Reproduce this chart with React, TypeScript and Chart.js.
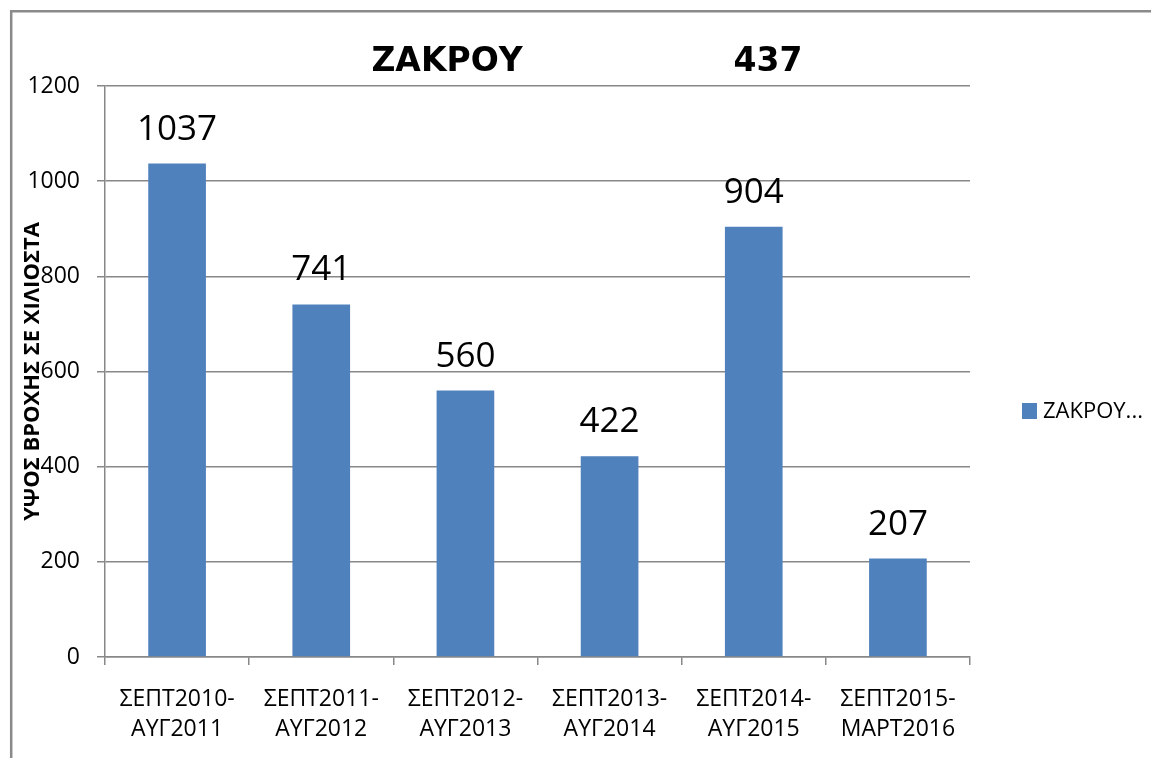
import React, { useEffect, useRef } from "react";
import { Chart, registerables } from "chart.js";

Chart.register(...registerables);

const categories: string[][] = [
  ["ΣΕΠΤ2010-", "ΑΥΓ2011"],
  ["ΣΕΠΤ2011-", "ΑΥΓ2012"],
  ["ΣΕΠΤ2012-", "ΑΥΓ2013"],
  ["ΣΕΠΤ2013-", "ΑΥΓ2014"],
  ["ΣΕΠΤ2014-", "ΑΥΓ2015"],
  ["ΣΕΠΤ2015-", "ΜΑΡΤ2016"],
];
const rainfall: number[] = [1037, 741, 560, 422, 904, 207];
const yMin = 0;
const yMax = 1200;
const yStep = 200;
const titleName = "ΖΑΚΡΟΥ";
const titleValue = "437";
const yAxisTitle = "ΥΨΟΣ ΒΡΟΧΗΣ ΣΕ ΧΙΛΙΟΣΤΑ";
const legendLabel = "ΖΑΚΡΟΥ...";

const BAR = "#4F81BD";
const GRID = "#888888";
const FONT = '"Open Sans", sans-serif';

const decorPlugin = {
  id: "decor",
  beforeDraw(chart: any) {
    const { ctx, width, height } = chart;
    ctx.save();
    ctx.fillStyle = "#ffffff";
    ctx.fillRect(0, 0, width, height);
    ctx.strokeStyle = "#8a8a8a";
    ctx.lineWidth = 2.5;
    ctx.beginPath();
    ctx.moveTo(11.2, 10);
    ctx.lineTo(11.2, height);
    ctx.moveTo(10, 11.2);
    ctx.lineTo(width, 11.2);
    ctx.stroke();
    ctx.restore();
  },
  afterDatasetsDraw(chart: any) {
    const { ctx } = chart;
    const meta = chart.getDatasetMeta(0);
    ctx.save();
    ctx.fillStyle = "#000";
    ctx.font = `35px ${FONT}`;
    ctx.textAlign = "center";
    ctx.textBaseline = "alphabetic";
    meta.data.forEach((el: any, i: number) => {
      ctx.fillText(String(rainfall[i]), el.x, el.y - 24);
    });
    ctx.restore();
  },
  afterDraw(chart: any) {
    const { ctx, chartArea } = chart;
    ctx.save();
    ctx.fillStyle = "#000";
    // title
    ctx.font = 'bold 33px "DejaVu Sans", sans-serif';
    ctx.textAlign = "center";
    ctx.textBaseline = "alphabetic";
    ctx.fillText(titleName, 447, 71);
    ctx.fillText(titleValue, 768, 71);
    // y axis title
    ctx.save();
    ctx.translate(33, (chartArea.top + chartArea.bottom) / 2);
    ctx.rotate(-Math.PI / 2);
    ctx.font = `bold 22px ${FONT}`;
    ctx.textAlign = "center";
    ctx.textBaseline = "middle";
    ctx.fillText(yAxisTitle, 0, 0);
    ctx.restore();
    // legend
    ctx.fillStyle = BAR;
    ctx.fillRect(1022, 403, 15, 16);
    ctx.fillStyle = "#000";
    ctx.font = `22px ${FONT}`;
    ctx.textAlign = "left";
    ctx.textBaseline = "middle";
    ctx.fillText(legendLabel, 1043, 412);
    ctx.restore();
  },
};

export default function App() {
  const canvasRef = useRef<HTMLCanvasElement | null>(null);

  useEffect(() => {
    const canvas = canvasRef.current;
    if (!canvas) return;
    const chart = new Chart(canvas, {
      type: "bar",
      data: {
        labels: categories,
        datasets: [
          {
            label: legendLabel,
            data: rainfall,
            backgroundColor: BAR,
            borderWidth: 0,
            categoryPercentage: 1,
            barPercentage: 0.4,
          },
        ],
      },
      options: {
        animation: false,
        responsive: true,
        maintainAspectRatio: false,
        layout: { padding: { left: 0, top: 86, right: 181, bottom: 0 } },
        plugins: {
          legend: { display: false },
          title: { display: false },
          tooltip: { enabled: false },
        },
        scales: {
          x: {
            grid: {
              offset: true,
              drawOnChartArea: false,
              drawTicks: true,
              tickLength: 8,
              color: GRID,
              lineWidth: 1.5,
            },
            border: { display: true, color: GRID, width: 1.5 },
            ticks: {
              color: "#000",
              font: { family: FONT, size: 23, lineHeight: 30 / 23 },
              padding: 19,
              maxRotation: 0,
              autoSkip: false,
            },
            afterFit(scale: any) {
              scale.height = 101;
            },
          },
          y: {
            min: yMin,
            max: yMax,
            ticks: {
              stepSize: yStep,
              color: "#000",
              font: { family: FONT, size: 23 },
              padding: 17,
              callback: (v: any) => String(v),
            },
            grid: {
              color: GRID,
              lineWidth: 1.5,
              drawTicks: true,
              tickLength: 8,
            },
            border: { display: true, color: GRID, width: 1.5 },
            afterFit(scale: any) {
              scale.width = 105;
            },
          },
        },
      },
      plugins: [decorPlugin],
    });
    return () => chart.destroy();
  }, []);

  return (
    <div
      style={{
        position: "absolute",
        left: 0,
        top: 0,
        width: 1151,
        height: 758,
        background: "#fff",
      }}
    >
      <canvas ref={canvasRef} />
    </div>
  );
}
